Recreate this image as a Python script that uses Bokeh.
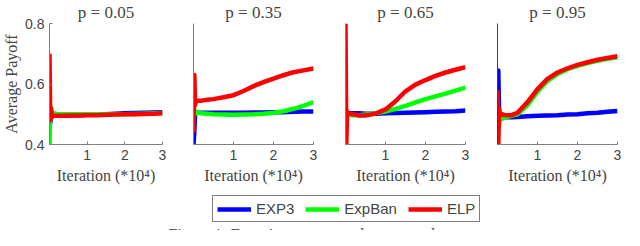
from bokeh.plotting import figure
from bokeh.layouts import column, row
from bokeh.models import Range1d, FixedTicker, Legend, LegendItem, Label
from bokeh.embed import file_html
from bokeh.resources import INLINE

# ---------------- data ----------------
ITERATION = [0.0, 0.02, 0.04, 0.06, 0.1, 0.2, 0.35, 0.5, 0.75, 1.0,
             1.25, 1.5, 1.75, 2.0, 2.25, 2.5, 2.75, 3.0]   # (*10^4)

PANEL_TITLES = ["p = 0.05", "p = 0.35", "p = 0.65", "p = 0.95"]

EXP3_P05 = [0.50, 0.47, 0.51, 0.49, 0.495, 0.497, 0.495, 0.496, 0.497, 0.498,
            0.499, 0.500, 0.502, 0.503, 0.504, 0.505, 0.506, 0.507]
EXPBAN_P05 = [0.40, 0.53, 0.49, 0.51, 0.505, 0.500, 0.500, 0.500, 0.500, 0.500,
              0.500, 0.500, 0.500, 0.500, 0.501, 0.502, 0.503, 0.504]
ELP_P05 = [0.70, 0.48, 0.52, 0.49, 0.495, 0.495, 0.495, 0.496, 0.496, 0.497,
           0.497, 0.498, 0.499, 0.500, 0.500, 0.501, 0.502, 0.503]

EXP3_P35 = [0.40, 0.44, 0.50, 0.505, 0.505, 0.505, 0.505, 0.505, 0.505, 0.505,
            0.505, 0.506, 0.506, 0.507, 0.507, 0.508, 0.509, 0.509]
EXPBAN_P35 = [0.49, 0.52, 0.50, 0.505, 0.505, 0.503, 0.502, 0.500, 0.499, 0.498,
              0.499, 0.500, 0.502, 0.505, 0.510, 0.518, 0.528, 0.540]
ELP_P35 = [0.44, 0.63, 0.53, 0.545, 0.545, 0.545, 0.548, 0.550, 0.556, 0.563,
           0.577, 0.593, 0.606, 0.618, 0.629, 0.639, 0.645, 0.651]

EXP3_P65 = [0.40, 0.50, 0.505, 0.500, 0.503, 0.503, 0.503, 0.502, 0.502, 0.503,
            0.504, 0.505, 0.506, 0.507, 0.508, 0.509, 0.510, 0.512]
EXPBAN_P65 = [0.49, 0.51, 0.50, 0.495, 0.497, 0.497, 0.497, 0.499, 0.503, 0.509,
              0.518, 0.528, 0.539, 0.550, 0.559, 0.568, 0.578, 0.588]
ELP_P65 = [0.80, 0.40, 0.51, 0.500, 0.502, 0.500, 0.496, 0.496, 0.502, 0.516,
           0.543, 0.576, 0.598, 0.613, 0.627, 0.638, 0.647, 0.656]

EXP3_P95 = [0.40, 0.645, 0.50, 0.495, 0.490, 0.490, 0.490, 0.491, 0.493, 0.495,
            0.496, 0.497, 0.499, 0.500, 0.503, 0.505, 0.508, 0.511]
EXPBAN_P95 = [0.47, 0.50, 0.47, 0.48, 0.485, 0.490, 0.495, 0.500, 0.530, 0.575,
              0.610, 0.633, 0.649, 0.660, 0.669, 0.677, 0.683, 0.688]
ELP_P95 = [0.58, 0.40, 0.52, 0.50, 0.500, 0.497, 0.497, 0.505, 0.540, 0.583,
           0.617, 0.638, 0.652, 0.663, 0.672, 0.680, 0.686, 0.692]

SERIES_NAMES = ["EXP3", "ExpBan", "ELP"]
SERIES_COLORS = ["#0000ff", "#00ff00", "#ff0000"]
PANEL_DATA = [
    [EXP3_P05, EXPBAN_P05, ELP_P05],
    [EXP3_P35, EXPBAN_P35, ELP_P35],
    [EXP3_P65, EXPBAN_P65, ELP_P65],
    [EXP3_P95, EXPBAN_P95, ELP_P95],
]
X_TICKS = [1, 2, 3]
Y_TICKS = [0.4, 0.6, 0.8]
X_LABEL = "Iteration (*10\u2074)"
Y_LABEL = "Average Payoff"
CAPTION = "Figure 1: Experiments on random examples."

# ---------------- layout ----------------
SERIF = "Liberation Serif"
SANS = "Liberation Sans"
FRAME_W = 120
FRAME_H = 121
TOP_H = 192
BORDERS = [(42, 15), (16, 16), (16, 16), (16, 7)]
AXIS_COLORS = ["#808080", "#808080", "#808080", "#404040"]

panels = []
for i, (title, series) in enumerate(zip(PANEL_TITLES, PANEL_DATA)):
    bl, br = BORDERS[i]
    p = figure(width=bl + FRAME_W + br, height=TOP_H,
               x_range=Range1d(0, 3), y_range=Range1d(0.4, 0.8),
               min_border_left=bl, min_border_right=br,
               min_border_top=23, min_border_bottom=TOP_H - 23 - FRAME_H,
               title=title, output_backend="svg", toolbar_location=None)
    p.outline_line_color = None
    p.grid.visible = False
    p.title.align = "center"
    p.title.vertical_align = "top"
    p.title.text_font = SERIF
    p.title.text_font_size = "17px"
    p.title.text_font_style = "normal"
    p.title.standoff = 0

    for ys, color in zip(series, SERIES_COLORS):
        p.line(ITERATION, ys, color=color, line_width=4.5, line_join="round")

    xa = p.xaxis[0]
    xa.ticker = FixedTicker(ticks=X_TICKS)
    xa.axis_label = X_LABEL
    xa.axis_label_text_font = SERIF
    xa.axis_label_text_font_size = "16px"
    xa.axis_label_text_font_style = "normal"
    xa.axis_label_standoff = 4
    xa.major_label_text_font = SANS
    xa.major_label_text_font_size = "14px"
    xa.major_label_standoff = 5
    xa.major_tick_in = 3
    xa.major_tick_out = 0
    xa.minor_tick_line_color = None
    xa.axis_line_color = "#808080"
    xa.major_tick_line_color = "#808080"

    ya = p.yaxis[0]
    ya.axis_line_color = AXIS_COLORS[i]
    ya.minor_tick_line_color = None
    ya.major_tick_in = 3
    ya.major_tick_out = 0
    ya.major_tick_line_color = "#808080"
    if i == 0:
        ya.ticker = FixedTicker(ticks=Y_TICKS)
        ya.major_label_text_font = SANS
        ya.major_label_text_font_size = "14px"
        ya.major_label_standoff = 5
        ya.axis_label = Y_LABEL
        ya.axis_label_text_font = SERIF
        ya.axis_label_text_font_size = "16px"
        ya.axis_label_text_font_style = "normal"
        ya.axis_label_standoff = 2
    else:
        ya.ticker = FixedTicker(ticks=[])
    panels.append(p)

# ---------------- legend + caption ----------------
BOTTOM_H = 230 - TOP_H
bottom = figure(width=624, height=BOTTOM_H, x_range=Range1d(0, 1), y_range=Range1d(10, 11),
                min_border_left=0, min_border_right=0, min_border_top=0, min_border_bottom=0,
                output_backend="svg", toolbar_location=None)
bottom.axis.visible = False
bottom.grid.visible = False
bottom.outline_line_color = None
items = []
for name, color, ys in zip(SERIES_NAMES, SERIES_COLORS, PANEL_DATA[0]):
    # real series drawn outside the visible range: only their legend swatch shows
    r = bottom.line(ITERATION, ys, color=color, line_width=4.5)
    items.append(LegendItem(label=name, renderers=[r]))
legend = Legend(items=items, orientation="horizontal", location=(212, 8),
                border_line_color="black", border_line_width=1,
                padding=4, spacing=11, glyph_width=34, glyph_height=14,
                label_standoff=5, label_height=14, margin=0,
                label_text_font=SANS, label_text_font_size="15px")
bottom.add_layout(legend)
bottom.add_layout(Label(x=168, y=5, x_units="screen", y_units="screen", text=CAPTION,
                        text_font=SERIF, text_font_size="16px", text_baseline="top"))

layout = column(row(*panels), bottom)
open("out.html", "w").write(file_html(layout, INLINE))
